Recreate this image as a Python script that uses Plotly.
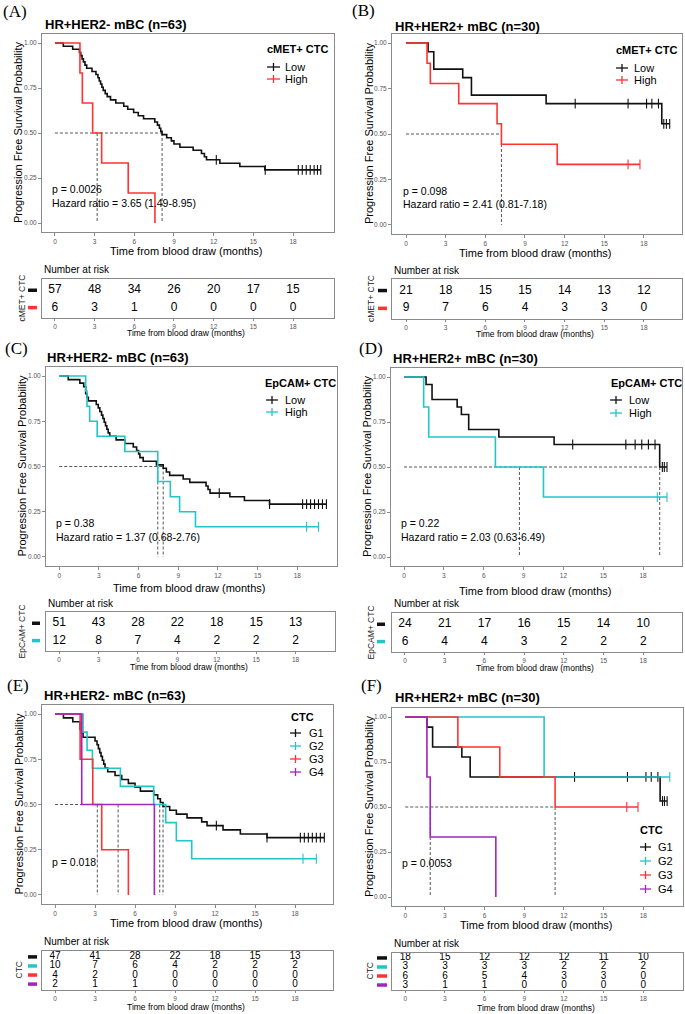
import plotly.graph_objects as go

W, H = 685, 1014
FONT = "Liberation Sans, Arial, sans-serif"
SERIF = "Liberation Serif, Times New Roman, serif"

BLACK = "#111111"
RED = "#FF3333"
CYAN = "#22C6C6"
PURPLE = "#A424C0"
AXIS_GREY = "#8a8a8a"
TICK_GREY = "#555555"

TIME_TICKS = [0, 3, 6, 9, 12, 15, 18]

# ---------------- Panel A : cMET+ CTC, HR+HER2- ----------------
A_low_time = [0, 0.63, 1.34, 1.85, 1.95, 2.05, 2.15, 2.27, 2.4, 2.8, 3.1, 3.25, 3.35, 3.45, 3.55, 3.65, 3.8, 3.95,
              4.2, 4.6, 5.2, 5.5, 5.95, 6.3, 6.7, 7.55, 7.75, 7.9, 8.0, 8.1, 8.45, 8.8, 9.0, 9.45, 10.45, 11.08,
              11.3, 11.46, 12.47, 13.98, 15.87]
A_low_surv = [1.0, 0.982, 0.965, 0.947, 0.930, 0.912, 0.895, 0.877, 0.860, 0.842, 0.825, 0.807, 0.789, 0.772,
              0.754, 0.737, 0.719, 0.702, 0.684, 0.667, 0.649, 0.632, 0.614, 0.596, 0.579, 0.561, 0.544, 0.526,
              0.509, 0.491, 0.474, 0.456, 0.439, 0.421, 0.404, 0.386, 0.368, 0.351, 0.332, 0.314, 0.295]
A_low_cens = [12.2, 15.9, 18.4, 18.7, 19.0, 19.3, 19.6, 19.85, 20.1]
A_high_time = [0, 1.89, 2.07, 2.85, 3.53, 5.54, 7.56]
A_high_surv = [1.0, 0.833, 0.667, 0.5, 0.333, 0.167, 0.0]
A_high_cens = []
A_medians = [3.19, 8.1]
A_risk_low = [57, 48, 34, 26, 20, 17, 15]
A_risk_high = [6, 3, 1, 0, 0, 0, 0]

# ---------------- Panel B : cMET+ CTC, HR+HER2+ ----------------
B_low_time = [0, 1.67, 2.1, 4.29, 4.95, 10.6, 19.35]
B_low_surv = [1.0, 0.952, 0.857, 0.810, 0.714, 0.667, 0.556]
B_low_cens = [12.8, 16.8, 18.2, 18.6, 19.1, 19.5, 19.7, 19.95]
B_high_time = [0, 1.59, 1.84, 3.99, 6.89, 7.22, 11.44]
B_high_surv = [1.0, 0.889, 0.778, 0.667, 0.556, 0.444, 0.333]
B_high_cens = [16.8, 17.7]
B_medians = [7.22]
B_risk_low = [21, 18, 15, 15, 14, 13, 12]
B_risk_high = [9, 7, 6, 4, 3, 3, 0]

# ---------------- Panel C : EpCAM+ CTC, HR+HER2- ----------------
C_low_time = [0, 0.68, 1.56, 1.85, 2.0, 2.1, 2.2, 2.8, 2.95, 3.07, 3.2, 3.3, 3.4, 3.5, 3.6, 3.7, 3.82, 4.3,
              4.96, 5.6, 5.85, 6.0, 6.1, 6.35, 7.35, 7.86, 8.1, 8.35, 9.37, 9.87, 11.1, 11.25, 11.4, 12.9,
              14.0, 15.9]
C_low_surv = [1.0, 0.980, 0.961, 0.941, 0.902, 0.882, 0.863, 0.843, 0.824, 0.804, 0.784, 0.765, 0.745, 0.725,
              0.706, 0.686, 0.667, 0.647, 0.627, 0.608, 0.588, 0.569, 0.549, 0.529, 0.509, 0.490, 0.470,
              0.451, 0.431, 0.412, 0.392, 0.373, 0.353, 0.333, 0.312, 0.292]
C_low_cens = [12.1, 15.9, 18.4, 18.7, 19.0, 19.3, 19.6, 19.9, 20.2]
C_high_time = [0, 2.0, 2.1, 2.3, 2.87, 4.96, 7.45, 8.4, 9.1, 10.3]
C_high_surv = [1.0, 0.917, 0.833, 0.75, 0.667, 0.583, 0.417, 0.333, 0.25, 0.167]
C_high_cens = [18.7, 19.6]
C_medians = [7.45, 7.86]
C_risk_low = [51, 43, 28, 22, 18, 15, 13]
C_risk_high = [12, 8, 7, 4, 2, 2, 2]

# ---------------- Panel D : EpCAM+ CTC, HR+HER2+ ----------------
D_low_time = [0, 1.66, 2.11, 4.0, 4.32, 4.87, 7.14, 11.3, 19.25]
D_low_surv = [1.0, 0.958, 0.875, 0.833, 0.792, 0.708, 0.667, 0.625, 0.5]
D_low_cens = [12.7, 16.7, 17.4, 17.9, 18.4, 18.9, 19.45, 19.6, 19.8]
D_high_time = [0, 1.48, 1.86, 6.88, 10.5]
D_high_surv = [1.0, 0.833, 0.667, 0.5, 0.333]
D_high_cens = [19.07, 19.8]
D_medians = [8.69, 19.25]
D_risk_low = [24, 21, 17, 16, 15, 14, 10]
D_risk_high = [6, 4, 4, 3, 2, 2, 2]

# ---------------- Panel E : CTC groups, HR+HER2- ----------------
E_g1_time = [0, 0.63, 1.33, 1.88, 1.95, 2.1, 3.0, 3.15, 3.25, 3.35, 3.45, 3.55, 3.65, 3.75, 3.95, 4.5, 5.0, 5.5,
             6.0, 6.4, 7.4, 7.7, 7.9, 8.1, 8.6, 9.1, 9.9, 11.0, 11.4, 12.6, 13.9, 15.9]
E_g1_surv = [1.0, 0.979, 0.957, 0.915, 0.894, 0.872, 0.851, 0.830, 0.809, 0.787, 0.766, 0.745, 0.723, 0.702,
             0.681, 0.660, 0.638, 0.617, 0.596, 0.574, 0.553, 0.532, 0.511, 0.489, 0.468, 0.447, 0.426, 0.404,
             0.383, 0.360, 0.337, 0.317]
E_g1_cens = [12.1, 15.9, 18.4, 18.7, 19.0, 19.3, 19.6, 19.9, 20.2]
E_g2_time = [0, 2.1, 2.4, 2.8, 4.9, 7.4, 8.3, 9.1, 10.25]
E_g2_surv = [1.0, 0.9, 0.8, 0.7, 0.6, 0.5, 0.4, 0.3, 0.2]
E_g2_cens = [18.6, 19.6]
E_g3_time = [0, 1.88, 2.83, 3.5, 5.5]
E_g3_surv = [1.0, 0.75, 0.5, 0.25, 0.0]
E_g3_cens = []
E_g4_time = [0, 2.0, 7.45]
E_g4_surv = [1.0, 0.5, 0.0]
E_g4_cens = []
E_medians = [3.17, 4.73, 7.85, 8.1]
E_risk_g1 = [47, 41, 28, 22, 18, 15, 13]
E_risk_g2 = [10, 7, 6, 4, 2, 2, 2]
E_risk_g3 = [4, 2, 0, 0, 0, 0, 0]
E_risk_g4 = [2, 1, 1, 0, 0, 0, 0]

# ---------------- Panel F : CTC groups, HR+HER2+ ----------------
F_g1_time = [0, 1.64, 2.07, 4.28, 4.91, 19.27]
F_g1_surv = [1.0, 0.944, 0.833, 0.778, 0.667, 0.533]
F_g1_cens = [12.8, 16.8, 18.2, 18.6, 19.1, 19.45, 19.6, 19.8]
F_g2_time = [0, 10.5]
F_g2_surv = [1.0, 0.667]
F_g2_cens = [20.0]
F_g3_time = [0, 3.98, 7.15, 11.33]
F_g3_surv = [1.0, 0.833, 0.667, 0.5]
F_g3_cens = [16.75, 17.6]
F_g4_time = [0, 1.64, 1.89, 6.85]
F_g4_surv = [1.0, 0.667, 0.333, 0.0]
F_g4_cens = []
F_medians = [1.89, 11.33]
F_risk_g1 = [18, 15, 12, 12, 12, 11, 10]
F_risk_g2 = [3, 3, 3, 3, 2, 2, 2]
F_risk_g3 = [6, 6, 5, 4, 3, 3, 0]
F_risk_g4 = [3, 1, 1, 0, 0, 0, 0]

LOW_HIGH = ["Low", "High"]
GROUPS = ["G1", "G2", "G3", "G4"]

PANELS = [
    dict(label="(A)", lab=(1, 12), title="HR+HER2- mBC (n=63)", tit=(43, 24),
         km=(42, 334, 34, 232), xr=(-0.98, 21.1), tb=(42, 334, 279, 318), tyr=(0.4, 2.65),
         ytx=18, xty=251, nar=269, tbxt=333, tbyt=21, bar=(28, 37), tbylabel="cMET+ CTC",
         leg=dict(title="cMET+ CTC", tx=265, ty=49, gx=(267, 280), lx=283, ys=[67, 79]),
         stats=[("p = 0.0026", 50, 189), ("Hazard ratio = 3.65 (1.49-8.95)", 50, 203)],
         curves=[(A_low_time, A_low_surv, A_low_cens, BLACK), (A_high_time, A_high_surv, A_high_cens, RED)],
         names=LOW_HIGH, medians=A_medians, risk=[A_risk_low, A_risk_high]),
    dict(label="(B)", lab=(350, 11), title="HR+HER2+ mBC (n=30)", tit=(393, 26),
         km=(392, 682, 34, 234), xr=(-1.06, 20.88), tb=(392, 682, 279, 319), tyr=(0.4, 2.65),
         ytx=369, xty=253, nar=270, tbxt=334, tbyt=371, bar=(378, 387), tbylabel="cMET+ CTC",
         leg=dict(title="cMET+ CTC", tx=614, ty=50, gx=(616, 628), lx=632, ys=[68, 80]),
         stats=[("p = 0.098", 401, 191), ("Hazard ratio = 2.41 (0.81-7.18)", 401, 204)],
         curves=[(B_low_time, B_low_surv, B_low_cens, BLACK), (B_high_time, B_high_surv, B_high_cens, RED)],
         names=LOW_HIGH, medians=B_medians, risk=[B_risk_low, B_risk_high]),
    dict(label="(C)", lab=(3, 348), title="HR+HER2- mBC (n=63)", tit=(45, 357),
         km=(46, 337, 367, 566), xr=(-1.0, 21.0), tb=(46, 335, 612, 651), tyr=(0.4, 2.65),
         ytx=21, xty=588, nar=603, tbxt=667, tbyt=21, bar=(32, 40), tbylabel="EpCAM+ CTC",
         leg=dict(title="EpCAM+ CTC", tx=263, ty=383, gx=(266, 278), lx=283, ys=[400, 412]),
         stats=[("p = 0.38", 54, 523), ("Hazard ratio = 1.37 (0.68-2.76)", 54, 537)],
         curves=[(C_low_time, C_low_surv, C_low_cens, BLACK), (C_high_time, C_high_surv, C_high_cens, CYAN)],
         names=LOW_HIGH, medians=C_medians, risk=[C_risk_low, C_risk_high]),
    dict(label="(D)", lab=(357, 348), title="HR+HER2+ mBC (n=30)", tit=(391, 358),
         km=(391, 682, 368, 566), xr=(-0.98, 20.93), tb=(392, 682, 613, 652), tyr=(0.4, 2.65),
         ytx=367, xty=591, nar=603, tbxt=668, tbyt=370, bar=(377, 385), tbylabel="EpCAM+ CTC",
         leg=dict(title="EpCAM+ CTC", tx=609, ty=383, gx=(610, 622), lx=627, ys=[400, 413]),
         stats=[("p = 0.22", 399, 523), ("Hazard ratio = 2.03 (0.63-6.49)", 399, 537)],
         curves=[(D_low_time, D_low_surv, D_low_cens, BLACK), (D_high_time, D_high_surv, D_high_cens, CYAN)],
         names=LOW_HIGH, medians=D_medians, risk=[D_risk_low, D_risk_high]),
    dict(label="(E)", lab=(5, 685), title="HR+HER2- mBC (n=63)", tit=(42, 695),
         km=(42, 333, 705, 904), xr=(-0.98, 20.85), tb=(42, 333, 951, 990), tyr=(0.35, 4.65),
         ytx=18, xty=923, nar=941, tbxt=1007, tbyt=18, bar=(28, 37), tbylabel="CTC",
         leg=dict(title="CTC", tx=289, ty=717, gx=(290, 301), lx=307, ys=[733, 746, 759, 772]),
         stats=[("p = 0.018", 50, 862)],
         curves=[(E_g1_time, E_g1_surv, E_g1_cens, BLACK), (E_g2_time, E_g2_surv, E_g2_cens, CYAN),
                 (E_g3_time, E_g3_surv, E_g3_cens, RED), (E_g4_time, E_g4_surv, E_g4_cens, PURPLE)],
         names=GROUPS, medians=E_medians, risk=[E_risk_g1, E_risk_g2, E_risk_g3, E_risk_g4]),
    dict(label="(F)", lab=(359, 685), title="HR+HER2+ mBC (n=30)", tit=(393, 697),
         km=(392, 683, 708, 906), xr=(-1.0, 21.0), tb=(392, 683, 953, 990), tyr=(0.45, 4.55),
         ytx=369, xty=925, nar=943, tbxt=1008, tbyt=369, bar=(377, 387), tbylabel="CTC",
         leg=dict(title="CTC", tx=638, ty=830, gx=(640, 651), lx=656, ys=[847, 861, 875, 889]),
         stats=[("p = 0.0053", 400, 863)],
         curves=[(F_g1_time, F_g1_surv, F_g1_cens, BLACK), (F_g2_time, F_g2_surv, F_g2_cens, CYAN),
                 (F_g3_time, F_g3_surv, F_g3_cens, RED), (F_g4_time, F_g4_surv, F_g4_cens, PURPLE)],
         names=GROUPS, medians=F_medians, risk=[F_risk_g1, F_risk_g2, F_risk_g3, F_risk_g4]),
]


def px(x):
    return x / W


def py(y):
    return 1 - y / H


fig = go.Figure()
annotations = []
shapes = []
layout_axes = {}


def text(x, y, s, size, color="#000000", bold=False, xanchor="left", family=FONT, angle=0):
    if bold:
        s = "<b>" + s + "</b>"
    annotations.append(dict(x=px(x), y=py(y), xref="paper", yref="paper", text=s, showarrow=False,
                            xanchor=xanchor, yanchor="middle", textangle=angle,
                            font=dict(size=size, color=color, family=family)))


def hline(x0, x1, y, color, width):
    shapes.append(dict(type="line", xref="paper", yref="paper", x0=px(x0), x1=px(x1), y0=py(y), y1=py(y),
                       line=dict(color=color, width=width)))


def vline(x, y0, y1, color, width):
    shapes.append(dict(type="line", xref="paper", yref="paper", x0=px(x), x1=px(x), y0=py(y0), y1=py(y1),
                       line=dict(color=color, width=width)))


def step_at(times, surv, t):
    val = surv[0]
    for ti, si in zip(times, surv):
        if ti <= t:
            val = si
    return val


def axis_name(k):
    return "" if k == 1 else str(k)


base_axis = dict(showline=True, mirror=True, linecolor=AXIS_GREY, linewidth=1, showgrid=False, zeroline=False,
                 ticks="outside", ticklen=3, tickwidth=0.8, tickcolor=AXIS_GREY,
                 tickfont=dict(size=6.5, color=TICK_GREY, family=FONT), fixedrange=True)

for i, P in enumerate(PANELS):
    kk = 2 * i + 1   # KM axis index
    kt = 2 * i + 2   # risk table axis index
    xa, ya = "x" + axis_name(kk), "y" + axis_name(kk)
    xt, yt = "x" + axis_name(kt), "y" + axis_name(kt)
    L, R, T, B = P["km"]
    layout_axes["xaxis" + axis_name(kk)] = dict(base_axis, domain=[px(L), px(R)], range=list(P["xr"]),
                                                 tickvals=TIME_TICKS, anchor=ya)
    layout_axes["yaxis" + axis_name(kk)] = dict(base_axis, domain=[py(B), py(T)], range=[-0.05, 1.05],
                                                 tickvals=[0, 0.25, 0.5, 0.75, 1.0],
                                                 ticktext=["0.00", "0.25", "0.50", "0.75", "1.00"], anchor=xa)
    tL, tR, tT, tB = P["tb"]
    layout_axes["xaxis" + axis_name(kt)] = dict(base_axis, domain=[px(tL), px(tR)], range=list(P["xr"]),
                                                 tickvals=TIME_TICKS, ticklen=2, anchor=yt)
    layout_axes["yaxis" + axis_name(kt)] = dict(base_axis, domain=[py(tB), py(tT)], range=list(P["tyr"]),
                                                 showticklabels=False, ticks="", anchor=xt)

    # median dashed lines
    meds = P["medians"]
    mx = [0, max(meds)]
    my = [0.5, 0.5]
    for m in meds:
        mx += [None, m, m]
        my += [None, 0.5, 0.0]
    fig.add_trace(go.Scatter(x=mx, y=my, mode="lines", xaxis=xa, yaxis=ya, showlegend=False, hoverinfo="skip",
                             line=dict(color="#444444", width=0.9, dash="3px,2px")))

    # survival curves
    for (times, surv, cens, color) in P["curves"]:
        tt, ss = list(times), list(surv)
        if cens and max(cens) > tt[-1]:
            tt.append(max(cens))
            ss.append(ss[-1])
        fig.add_trace(go.Scatter(x=tt, y=ss, mode="lines", xaxis=xa, yaxis=ya, showlegend=False,
                                 hoverinfo="skip", line=dict(color=color, width=1.6, shape="hv")))
        if cens:
            cy = [step_at(times, surv, c) for c in cens]
            fig.add_trace(go.Scatter(x=cens, y=cy, mode="markers", xaxis=xa, yaxis=ya, showlegend=False,
                                     hoverinfo="skip", cliponaxis=False,
                                     marker=dict(symbol="line-ns", size=7, color=color,
                                                 line=dict(color=color, width=1.1))))

    # risk table numbers
    n = len(P["risk"])
    num_size = 12 if n == 2 else 10
    for r, vals in enumerate(P["risk"]):
        fig.add_trace(go.Scatter(x=TIME_TICKS, y=[n - r] * len(TIME_TICKS), mode="text",
                                 text=[str(v) for v in vals], xaxis=xt, yaxis=yt, showlegend=False,
                                 hoverinfo="skip", cliponaxis=False,
                                 textfont=dict(size=num_size, color="#000000", family=FONT)))

    # risk table colour keys
    rT, rB = tT, tB
    y0r, y1r = P["tyr"]
    for r, (times, surv, cens, color) in enumerate(P["curves"]):
        yv = n - r
        ypx = rT + (y1r - yv) / (y1r - y0r) * (rB - rT)
        hline(P["bar"][0], P["bar"][1], ypx, color, 3.5)

    # texts
    text(P["lab"][0], P["lab"][1], P["label"], 17, family=SERIF)
    text(P["tit"][0], P["tit"][1], P["title"], 13, bold=True)
    text(P["ytx"], (T + B) / 2, "Progression Free Survival Probability", 11, xanchor="center", angle=-90)
    text((L + R) / 2 - 2, P["xty"], "Time from blood draw (months)", 11, xanchor="center")
    text(tL, P["nar"], "Number at risk", 10)
    text((tL + tR) / 2 - 2, P["tbxt"], "Time from blood draw (months)", 8.5, xanchor="center")
    text(P["tbyt"], (tT + tB) / 2, P["tbylabel"], 8.5, xanchor="center", angle=-90, color="#222222")
    for s, sx, sy in P["stats"]:
        text(sx, sy, s, 10.5)

    # legend
    lg = P["leg"]
    text(lg["tx"], lg["ty"], lg["title"], 11, bold=True)
    for (times, surv, cens, color), name, ly in zip(P["curves"], P["names"], lg["ys"]):
        g0, g1 = lg["gx"]
        hline(g0, g1, ly, color, 1.3)
        vline((g0 + g1) / 2, ly - 4, ly + 4, color, 1.3)
        text(lg["lx"], ly, name, 11)

fig.update_layout(
    width=W, height=H, margin=dict(l=0, r=0, t=0, b=0),
    paper_bgcolor="white", plot_bgcolor="white",
    annotations=annotations, shapes=shapes, showlegend=False,
    font=dict(family=FONT),
    **layout_axes,
)

fig.write_html("out.html", config={"displayModeBar": False},
               post_script="document.body.style.margin='0px';document.body.style.padding='0px';")
